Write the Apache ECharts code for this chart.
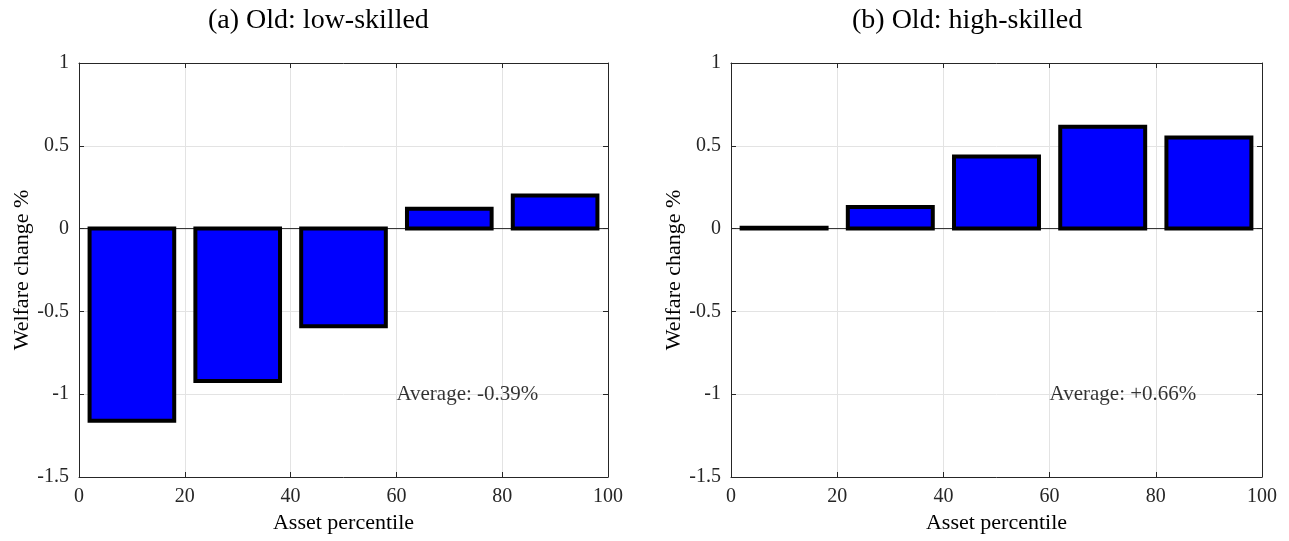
<!DOCTYPE html>
<html>
<head>
<meta charset="utf-8">
<script src="https://cdn.jsdelivr.net/npm/echarts@6/dist/echarts.min.js"></script>
<style>
html,body{margin:0;padding:0;background:#fff;}
#c{width:1289px;height:541px;}
</style>
</head>
<body>
<div id="c"></div>
<script>
const percentiles = [10, 30, 50, 70, 90];
const lowSkilled = [-1.16, -0.92, -0.59, 0.12, 0.20];
const highSkilled = [0.005, 0.13, 0.435, 0.615, 0.55];
const titles = ['(a) Old: low-skilled', '(b) Old: high-skilled'];
const averages = ['Average: -0.39%', 'Average: +0.66%'];
const averagePos = [60, -1];
const barHalfWidth = 8;

const FONT = '"Liberation Serif", "Times New Roman", serif';
const chart = echarts.init(document.getElementById('c'), null, {renderer: 'canvas'});

const grids = [
  {left: 79, top: 63, width: 529, height: 414},
  {left: 731, top: 63, width: 531, height: 414}
];
const titleLeft = [203, 847];

const xAxes = [], yAxes = [], series = [], titleArr = [];
const seriesData = [lowSkilled, highSkilled];

grids.forEach((g, i) => {
  const axisLine = {show: true, onZero: false, lineStyle: {color: '#262626', width: 1}};
  const tick = {show: true, inside: true, length: 5, lineStyle: {color: '#262626'}};
  xAxes.push({
    type: 'value', gridIndex: i, min: 0, max: 100, interval: 20, position: 'bottom',
    name: 'Asset percentile', nameLocation: 'middle', nameGap: 35,
    nameTextStyle: {fontFamily: FONT, fontSize: 22, color: '#000'},
    axisLine: axisLine, axisTick: tick,
    axisLabel: {fontFamily: FONT, fontSize: 20, color: '#262626', margin: 10},
    splitLine: {show: true, lineStyle: {color: '#e3e3e3', width: 1}}
  });
  xAxes.push({
    type: 'value', gridIndex: i, min: 0, max: 100, interval: 20, position: 'top',
    axisLine: axisLine, axisTick: tick,
    axisLabel: {show: false}, splitLine: {show: false}
  });
  yAxes.push({
    type: 'value', gridIndex: i, min: -1.5, max: 1, interval: 0.5, position: 'left',
    name: 'Welfare change %', nameLocation: 'middle', nameGap: 46,
    nameTextStyle: {fontFamily: FONT, fontSize: 22, color: '#000'},
    axisLine: axisLine, axisTick: tick,
    axisLabel: {fontFamily: FONT, fontSize: 20, color: '#262626', margin: 10,
      formatter: v => String(v)},
    splitLine: {show: true, lineStyle: {color: '#e3e3e3', width: 1}}
  });
  yAxes.push({
    type: 'value', gridIndex: i, min: -1.5, max: 1, interval: 0.5, position: 'right',
    axisLine: axisLine, axisTick: tick,
    axisLabel: {show: false}, splitLine: {show: false}
  });

  titleArr.push({
    text: titles[i],
    left: titleLeft[i], top: 2,
    textStyle: {fontFamily: FONT, fontSize: 28, fontWeight: 'normal', color: '#000'}
  });

  series.push({
    type: 'line', xAxisIndex: i * 2, yAxisIndex: i * 2, silent: true,
    data: [[0, 0], [100, 0]], symbol: 'none',
    lineStyle: {color: '#262626', width: 1}, z: 1
  });

  series.push({
    type: 'custom', xAxisIndex: i * 2, yAxisIndex: i * 2,
    data: percentiles.map((p, k) => [p, seriesData[i][k]]),
    renderItem: function (params, api) {
      const x = api.value(0), v = api.value(1);
      const p1 = api.coord([x - barHalfWidth, v]);
      const p2 = api.coord([x + barHalfWidth, 0]);
      const y0 = Math.min(p1[1], p2[1]);
      const h = Math.abs(p1[1] - p2[1]);
      return {
        type: 'rect',
        shape: {x: p1[0], y: y0, width: p2[0] - p1[0], height: h},
        style: {fill: '#0000ff', stroke: '#000', lineWidth: 4}
      };
    },
    z: 3
  });

  series.push({
    type: 'scatter', xAxisIndex: i * 2, yAxisIndex: i * 2, silent: true,
    data: [averagePos], symbolSize: 0,
    label: {show: true, position: 'right', distance: 0, formatter: averages[i],
      fontFamily: FONT, fontSize: 21, color: '#000'},
    z: 5
  });
});

chart.setOption({
  animation: false,
  backgroundColor: '#fff',
  title: titleArr,
  grid: grids,
  xAxis: xAxes,
  yAxis: yAxes,
  series: series
});
</script>
</body>
</html>
